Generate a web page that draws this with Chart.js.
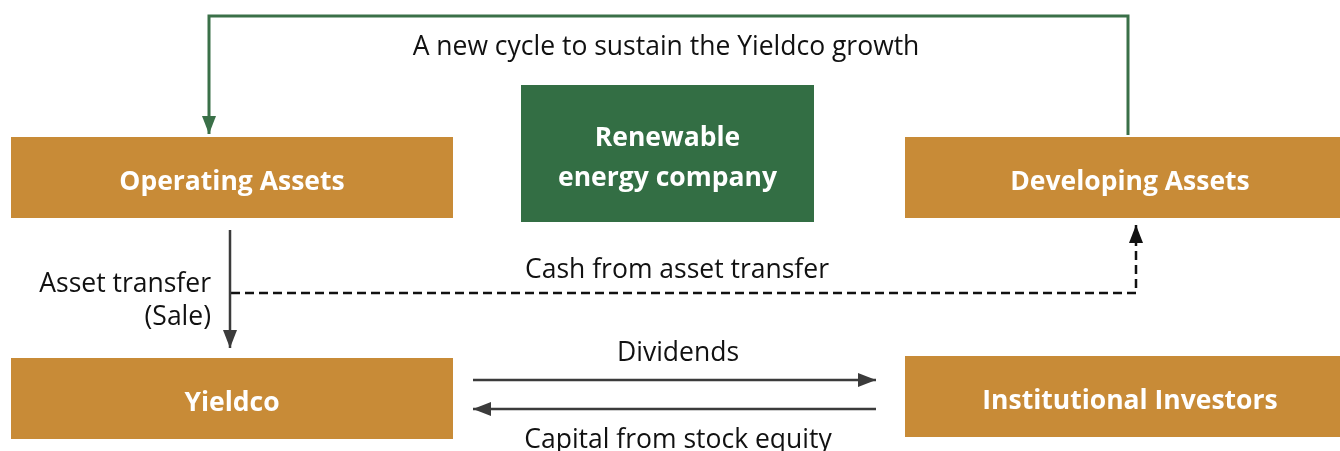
<!DOCTYPE html>
<html lang="en">
<head>
    <meta charset="UTF-8">
    <title>Yieldco cycle</title>
    <style>
        body {
            margin: 0;
            background: #ffffff;
        }
        .chart-container {
            position: relative;
            width: 1340px;
            height: 451px;
        }
    </style>
</head>
<body>
    <div class="chart-container">
        <canvas id="flowChart"></canvas>
    </div>

    <script src="https://cdn.jsdelivr.net/npm/chart.js"></script>
    <script>
        // Nodes of the diagram (drawing units = the 1340 x 451 picture)
        const nodeLabels = [['Operating Assets'], ['Renewable', 'energy company'], ['Developing Assets'], ['Yieldco'], ['Institutional Investors']];
        const nodeLeft = [11, 521, 905, 11, 905];
        const nodeRight = [453, 814, 1355, 453, 1355];
        const nodeTop = [137, 85, 137, 358, 356];
        const nodeBottom = [218, 222, 218, 439, 437];
        const nodeKind = ['asset', 'company', 'asset', 'asset', 'asset'];

        // Connectors: polyline points, the last point is the arrow tip
        const cycleLine = [{x: 1128, y: 135}, {x: 1128, y: 16}, {x: 209, y: 16}, {x: 209, y: 134}];
        const saleLine = [{x: 230, y: 230}, {x: 230, y: 348}];
        const cashLine = [{x: 231, y: 293}, {x: 1136, y: 293}, {x: 1136, y: 225}];
        const dividendLine = [{x: 473, y: 380}, {x: 876, y: 380}];
        const capitalLine = [{x: 876, y: 409}, {x: 473, y: 409}];

        // Free text labels
        const noteTexts = ['A new cycle to sustain the Yieldco growth', 'Asset transfer', '(Sale)', 'Cash from asset transfer', 'Dividends', 'Capital from stock equity'];
        const noteX = [666, 211, 211, 677, 678, 678];
        const noteY = [47, 284, 317, 270, 353, 440];
        const noteAlign = ['center', 'right', 'right', 'center', 'center', 'center'];

        const colors = {asset: '#c88b37', company: '#336e44', cycle: '#3a7048', arrow: '#3b3b3b', dash: '#111111'};

        const diagramPlugin = {
            id: 'diagram',
            beforeDatasetsDraw(chart) {
                const ctx = chart.ctx;
                const xs = chart.scales.x;
                const ys = chart.scales.y;
                ctx.save();
                nodeLabels.forEach((lines, i) => {
                    const x0 = xs.getPixelForValue(nodeLeft[i]);
                    const x1 = xs.getPixelForValue(nodeRight[i]);
                    const y0 = ys.getPixelForValue(nodeTop[i]);
                    const y1 = ys.getPixelForValue(nodeBottom[i]);
                    ctx.fillStyle = colors[nodeKind[i]];
                    ctx.fillRect(x0, y0, x1 - x0, y1 - y0);
                    ctx.fillStyle = '#ffffff';
                    ctx.font = 'bold 26.5px "Open Sans"';
                    ctx.textAlign = 'center';
                    ctx.textBaseline = 'middle';
                    const lineH = 40;
                    const cy = (y0 + y1) / 2 + 5;
                    lines.forEach((t, k) => {
                        ctx.fillText(t, (x0 + x1) / 2, cy + (k - (lines.length - 1) / 2) * lineH);
                    });
                });
                ctx.fillStyle = '#111111';
                ctx.font = '26.5px "Open Sans"';
                ctx.textBaseline = 'middle';
                noteTexts.forEach((t, i) => {
                    ctx.textAlign = noteAlign[i];
                    ctx.fillText(t, xs.getPixelForValue(noteX[i]), ys.getPixelForValue(noteY[i]));
                });
                ctx.restore();
            },
            afterDatasetsDraw(chart) {
                // arrowheads at the end of every connector
                const ctx = chart.ctx;
                const xs = chart.scales.x;
                const ys = chart.scales.y;
                ctx.save();
                chart.data.datasets.forEach(ds => {
                    const pts = ds.data;
                    const a = pts[pts.length - 2];
                    const b = pts[pts.length - 1];
                    const ax = xs.getPixelForValue(a.x), ay = ys.getPixelForValue(a.y);
                    const bx = xs.getPixelForValue(b.x), by = ys.getPixelForValue(b.y);
                    const ang = Math.atan2(by - ay, bx - ax);
                    const len = 18, half = 7;
                    ctx.fillStyle = ds.borderColor;
                    ctx.beginPath();
                    ctx.moveTo(bx, by);
                    ctx.lineTo(bx - len * Math.cos(ang) - half * Math.sin(ang), by - len * Math.sin(ang) + half * Math.cos(ang));
                    ctx.lineTo(bx - len * Math.cos(ang) + half * Math.sin(ang), by - len * Math.sin(ang) - half * Math.cos(ang));
                    ctx.closePath();
                    ctx.fill();
                });
                ctx.restore();
            }
        };

        function connector(data, color, width, dash) {
            return {
                data: data,
                showLine: true,
                borderColor: color,
                borderWidth: width,
                borderDash: dash,
                pointRadius: 0,
                tension: 0,
                clip: false
            };
        }

        new Chart(document.getElementById('flowChart').getContext('2d'), {
            type: 'scatter',
            data: {
                datasets: [
                    connector(cycleLine, colors.cycle, 3, []),
                    connector(saleLine, colors.arrow, 2.5, []),
                    connector(cashLine, colors.dash, 2.5, [9, 5]),
                    connector(dividendLine, colors.arrow, 2.5, []),
                    connector(capitalLine, colors.arrow, 2.5, [])
                ]
            },
            options: {
                responsive: true,
                maintainAspectRatio: false,
                animation: false,
                layout: {padding: 0},
                plugins: {legend: {display: false}, tooltip: {enabled: false}},
                scales: {
                    x: {type: 'linear', min: 0, max: 1340, display: false},
                    y: {type: 'linear', min: 0, max: 451, reverse: true, display: false}
                }
            },
            plugins: [diagramPlugin]
        });
    </script>
</body>
</html>
